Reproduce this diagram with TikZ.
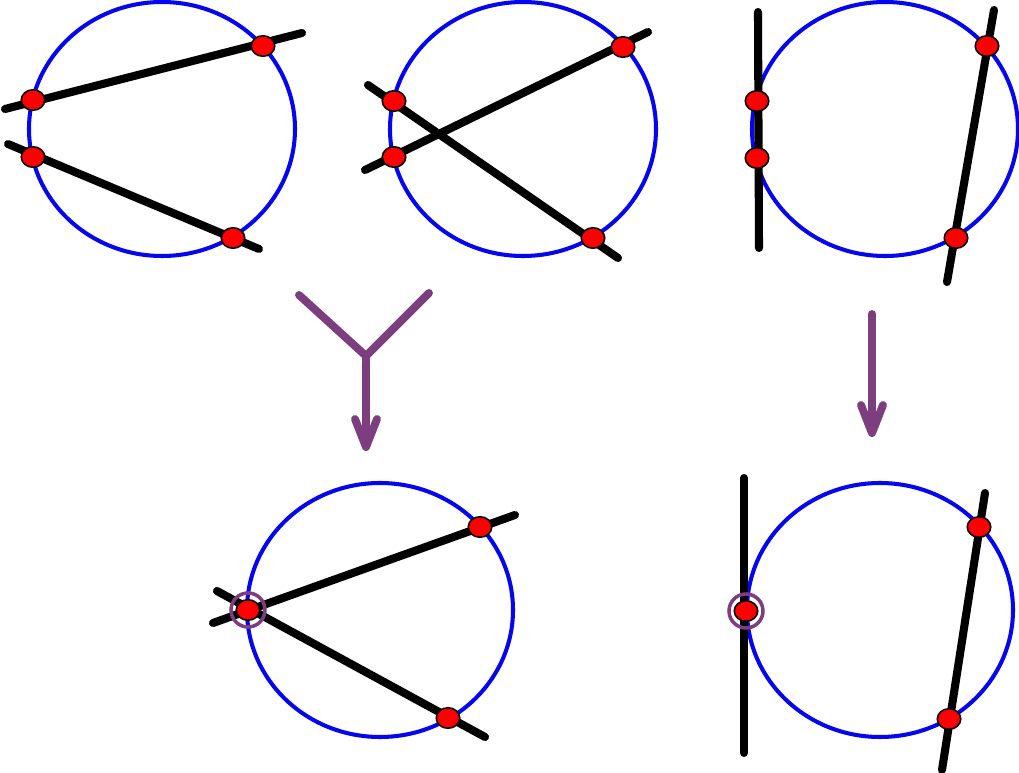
\documentclass[tikz,border=0pt]{standalone}
\usepackage{tikz}
\usetikzlibrary{calc,arrows.meta,shapes.geometric,positioning}
\definecolor{circblue}{RGB}{5,5,240}
\definecolor{mergepurple}{RGB}{125,62,128}
\tikzset{
    circ/.style={
    draw=circblue,line width=2.3pt
    },
    chord/.style={
    draw=black,line width=4.6pt,line cap=round
    },
    meet/.style={
    ellipse,draw=black,fill=red,line width=0.9pt,inner sep=0pt,minimum width=4.7mm,minimum height=4.1mm
    },
    ring/.style={
    circle,draw=mergepurple,line width=2pt,inner sep=0pt,minimum size=6.8mm
    },
    flow/.style={
    draw=mergepurple,line width=4.5pt,line cap=round,line join=round
    },
}

\begin{document}
\begin{tikzpicture}[x=0.02cm, y=-0.02cm]
  \useasboundingbox (0,0) rectangle (1019,773);

  % top left: two chords, no common point
  \draw[circ] (162,129) ellipse (133 and 127);
  \coordinate (a1s) at (5,109);   \coordinate (a1e) at (302,33);
  \coordinate (a2s) at (8,144);   \coordinate (a2e) at (259,249);
  \draw[chord] (a1s) -- (a1e);
  \draw[chord] (a2s) -- (a2e);
  \node[meet] (a1) at (263,46) {};
  \node[meet] (a2) at (33,100) {};
  \node[meet] (a3) at (33,157) {};
  \node[meet] (a4) at (233,238) {};

  % top middle: crossing chords
  \draw[circ] (523,129) ellipse (133 and 127);
  \coordinate (b1s) at (365,170); \coordinate (b1e) at (648,32);
  \coordinate (b2s) at (368,85);  \coordinate (b2e) at (618,258);
  \draw[chord] (b1s) -- (b1e);
  \draw[chord] (b2s) -- (b2e);
  \node[meet] (b1) at (623,47) {};
  \node[meet] (b2) at (394,101) {};
  \node[meet] (b3) at (394,157) {};
  \node[meet] (b4) at (593,238) {};

  % top right: near tangent line
  \draw[circ] (885,129) ellipse (133 and 127);
  \coordinate (c1s) at (758,12);  \coordinate (c1e) at (759,248);
  \coordinate (c2s) at (994,10);  \coordinate (c2e) at (947,282);
  \draw[chord] (c1s) -- (c1e);
  \draw[chord] (c2s) -- (c2e);
  \node[meet] (c1) at (757,101) {};
  \node[meet] (c2) at (757,158) {};
  \node[meet] (c3) at (987,46) {};
  \node[meet] (c4) at (956,238) {};

  % arrows
  \coordinate (yl) at (299,295);  \coordinate (yr) at (429,293);
  \coordinate (yj) at (366,356);  \coordinate (yt) at (366,451);
  \draw[flow] (yl) -- (yj) -- (yr);
  \draw[flow,-{Straight Barb[length=5.6mm,width=4.4mm,round]}] (yj) -- (yt);
  \coordinate (rs) at (872,314);  \coordinate (rt) at (872,437);
  \draw[flow,-{Straight Barb[length=5.6mm,width=4.4mm,round]}] (rs) -- (rt);

  % bottom middle: merged point
  \draw[circ] (380,610) ellipse (133 and 127);
  \coordinate (d1s) at (213,623); \coordinate (d1e) at (515,515);
  \coordinate (d2s) at (217,591); \coordinate (d2e) at (485,737);
  \draw[chord] (d1s) -- (d1e);
  \draw[chord] (d2s) -- (d2e);
  \node[ring] (dq) at (248,610) {};
  \node[meet] (d1) at (248,610) {};
  \node[meet] (d2) at (480,527) {};
  \node[meet] (d3) at (448,718) {};

  % bottom right: tangent line
  \draw[circ] (880,610) ellipse (133 and 127);
  \coordinate (e1s) at (744,478); \coordinate (e1e) at (744,753);
  \coordinate (e2s) at (985,493); \coordinate (e2e) at (942,770);
  \draw[chord] (e1s) -- (e1e);
  \draw[chord] (e2s) -- (e2e);
  \node[ring] (eq) at (746,611) {};
  \node[meet] (e1) at (746,611) {};
  \node[meet] (e2) at (979,527) {};
  \node[meet] (e3) at (949,719) {};
\end{tikzpicture}
\end{document}
